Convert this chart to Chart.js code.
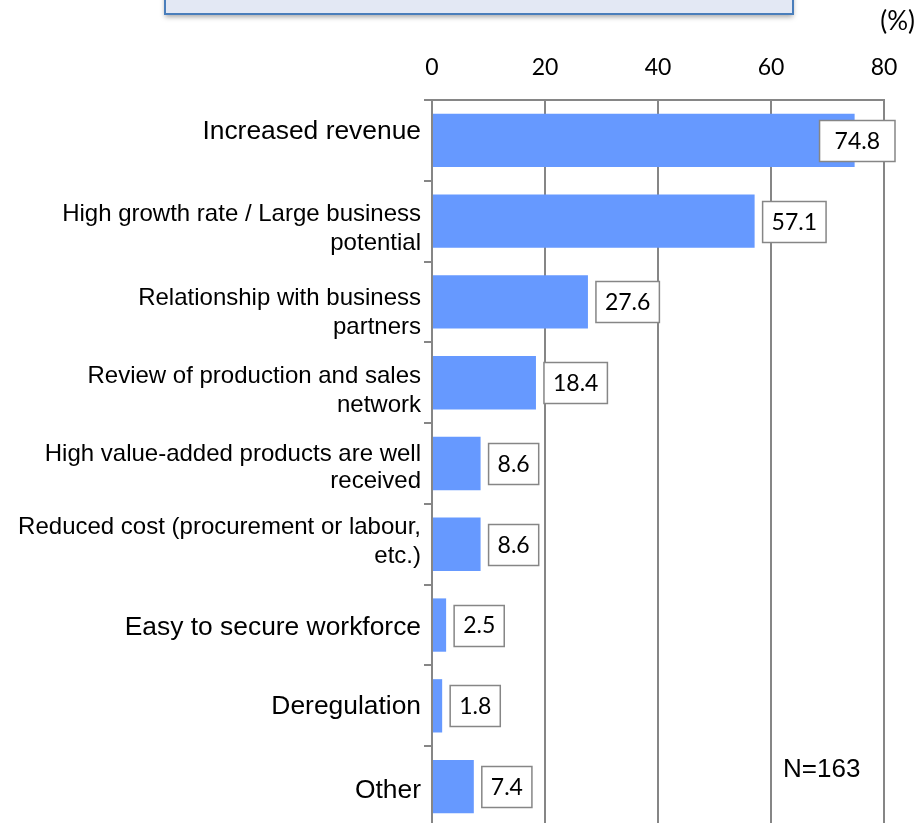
<!DOCTYPE html>
<html>
<head>
<meta charset="utf-8">
<script src="https://cdn.jsdelivr.net/npm/chart.js@4"></script>
<style>
  html, body { margin: 0; padding: 0; background: #fff; overflow: hidden; }
  #wrap { position: relative; width: 919px; height: 827px; }
</style>
</head>
<body>
<div id="wrap"><canvas id="chart"></canvas></div>
<script>
// Reasons given, share of respondents (%)
const categories = [
  'Increased revenue',
  ['High growth rate / Large business', 'potential'],
  ['Relationship with business', 'partners'],
  ['Review of production and sales', 'network'],
  ['High value-added products are well', 'received'],
  ['Reduced cost (procurement or labour,', 'etc.)'],
  'Easy to secure workforce',
  'Deregulation',
  'Other',
];
const shares = [74.8, 57.1, 27.6, 18.4, 8.6, 8.6, 2.5, 1.8, 7.4];
const xTicks = [0, 20, 40, 60, 80];
const unitLabel = '(%)';
const sampleNote = 'N=163';

const GRID = '#868686';
const BAR = '#6699ff';
const NUM_FONT = 'Lato, "Open Sans", sans-serif';
const TXT_FONT = '"Liberation Sans", Arial, sans-serif';

// vertical nudge of each category label's first line (px from row centre)
const labelNudge = [-10.5, -9, -5.5, -8.5, -11.5, -18.5, 0, -1.5, 2];
const lineGap = [0, 29, 29, 29, 27, 28.5, 0, 0, 0];

// category labels, right-aligned against the axis
const categoryLabels = {
  id: 'categoryLabels',
  afterDraw(chart) {
    const { ctx } = chart;
    const y = chart.scales.y;
    ctx.save();
    ctx.fillStyle = '#000';
    ctx.textAlign = 'right';
    ctx.textBaseline = 'alphabetic';
    categories.forEach((lab, i) => {
      const lines = Array.isArray(lab) ? lab : [lab];
      const size = lines.length > 1 ? 24 : 26.4;
      ctx.font = size + 'px ' + TXT_FONT;
      const capMid = y.getPixelForValue(i) + labelNudge[i];
      lines.forEach((ln, k) => {
        ctx.fillText(ln, 421, capMid + 0.358 * size + k * lineGap[i]);
      });
    });
    ctx.restore();
  },
};

// value boxes at the end of each bar
const valueBoxes = {
  id: 'valueBoxes',
  afterDatasetsDraw(chart) {
    const { ctx, chartArea } = chart;
    const meta = chart.getDatasetMeta(0);
    ctx.save();
    ctx.font = '23px ' + NUM_FONT;
    ctx.textAlign = 'center';
    ctx.textBaseline = 'middle';
    meta.data.forEach((bar, i) => {
      const txt = shares[i].toFixed(1);
      let w = ctx.measureText(txt).width + 18;
      const h = 41;
      let left = bar.x + 8;
      if (left + w > chartArea.right + 11) {
        // no room past the last gridline: widen and pull back over the bar
        w += 12;
        left = chartArea.right + 11 - w;
      }
      const top = Math.round(bar.y - h / 2) + 0.5;
      ctx.fillStyle = '#fff';
      ctx.fillRect(left, top, w, h);
      ctx.strokeStyle = GRID;
      ctx.lineWidth = 1.5;
      ctx.strokeRect(left, top, w, h);
      ctx.fillStyle = '#000';
      ctx.fillText(txt, left + w / 2, bar.y + 1);
    });
    ctx.restore();
  },
};

// heading panel at the top, unit label and sample size
const extras = {
  id: 'extras',
  beforeDraw(chart) {
    const { ctx } = chart;
    ctx.save();
    ctx.shadowColor = 'rgba(0,0,0,0.35)';
    ctx.shadowBlur = 5;
    ctx.shadowOffsetY = 3;
    ctx.fillStyle = '#e3e8f4';
    ctx.fillRect(165, -20, 628, 34);
    ctx.shadowColor = 'transparent';
    ctx.strokeStyle = '#4a7ebb';
    ctx.lineWidth = 2;
    ctx.strokeRect(165, -20, 628, 34);
    ctx.restore();
  },
  afterDraw(chart) {
    const { ctx } = chart;
    ctx.save();
    ctx.fillStyle = '#000';
    ctx.textBaseline = 'middle';
    ctx.textAlign = 'right';
    ctx.font = '26px ' + NUM_FONT;
    ctx.fillText(unitLabel, 915, 22);
    ctx.textAlign = 'left';
    ctx.font = '26px ' + TXT_FONT;
    ctx.fillText(sampleNote, 783, 770);
    ctx.restore();
  },
};

new Chart(document.getElementById('chart'), {
  type: 'bar',
  data: {
    labels: categories,
    datasets: [{
      data: shares,
      backgroundColor: BAR,
      borderWidth: 0,
      barPercentage: 0.66,
      categoryPercentage: 1,
    }],
  },
  options: {
    indexAxis: 'y',
    responsive: true,
    maintainAspectRatio: false,
    animation: false,
    layout: { padding: { left: 0, right: 35, top: 0, bottom: 0 } },
    plugins: {
      legend: { display: false },
      tooltip: { enabled: false },
    },
    scales: {
      x: {
        position: 'top',
        min: 0,
        max: 80,
        afterBuildTicks(scale) {
          scale.ticks = xTicks.map((v) => ({ value: v }));
        },
        afterFit(scale) {
          scale.height = 100;
          scale.paddingLeft = 0;
          scale.paddingRight = 0;
        },
        grid: { color: GRID, lineWidth: 2, drawTicks: false },
        border: { display: true, color: GRID, width: 2 },
        ticks: {
          color: '#000',
          padding: 19,
          font: { family: NUM_FONT, size: 23 },
        },
      },
      y: {
        afterFit(scale) {
          scale.width = 432;
          scale.paddingTop = 0;
          scale.paddingBottom = 0;
        },
        grid: {
          offset: true,
          drawOnChartArea: false,
          drawTicks: true,
          tickLength: 8,
          color: GRID,
          lineWidth: 2,
        },
        border: { display: true, color: GRID, width: 2 },
        ticks: { display: false, autoSkip: false },
      },
    },
  },
  plugins: [extras, valueBoxes, categoryLabels],
});
</script>
</body>
</html>
